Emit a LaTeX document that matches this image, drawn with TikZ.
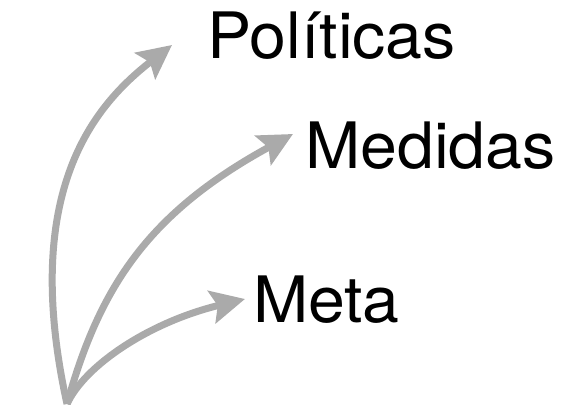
\documentclass[tikz,border=0pt]{standalone}
\usepackage{fontspec}
\setmainfont[FakeStretch=1.035]{TeX Gyre Heros}
\usetikzlibrary{arrows.meta}
\definecolor{arrowgray}{RGB}{170,170,170}
\begin{document}
\begin{tikzpicture}[x=1pt,y=1pt,
  lbl/.style={anchor=base west, inner sep=0pt, font=\fontsize{64}{70}\selectfont, text=black},
  curvearrow/.style={draw=arrowgray, line width=7pt,
    -{Stealth[length=34pt,width=33pt,inset=6pt]}}]
\useasboundingbox (0,0) rectangle (567,404);
\coordinate (o) at (67,0);
\coordinate (tpol) at (172,359);
\coordinate (tmed) at (293,270);
\coordinate (tmet) at (245,105);
\node[lbl] (pol) at (207,345) {Políticas};
\node[lbl] (med) at (305,235) {Medidas};
\node[lbl] (met) at (253,81) {Meta};
\draw[curvearrow] (o) .. controls (20,214) and (95,299) .. (tpol);
\draw[curvearrow] (o) .. controls (100,119) and (150,192) .. (tmed);
\draw[curvearrow] (o) .. controls (85,39) and (150,82) .. (tmet);
\end{tikzpicture}
\end{document}
